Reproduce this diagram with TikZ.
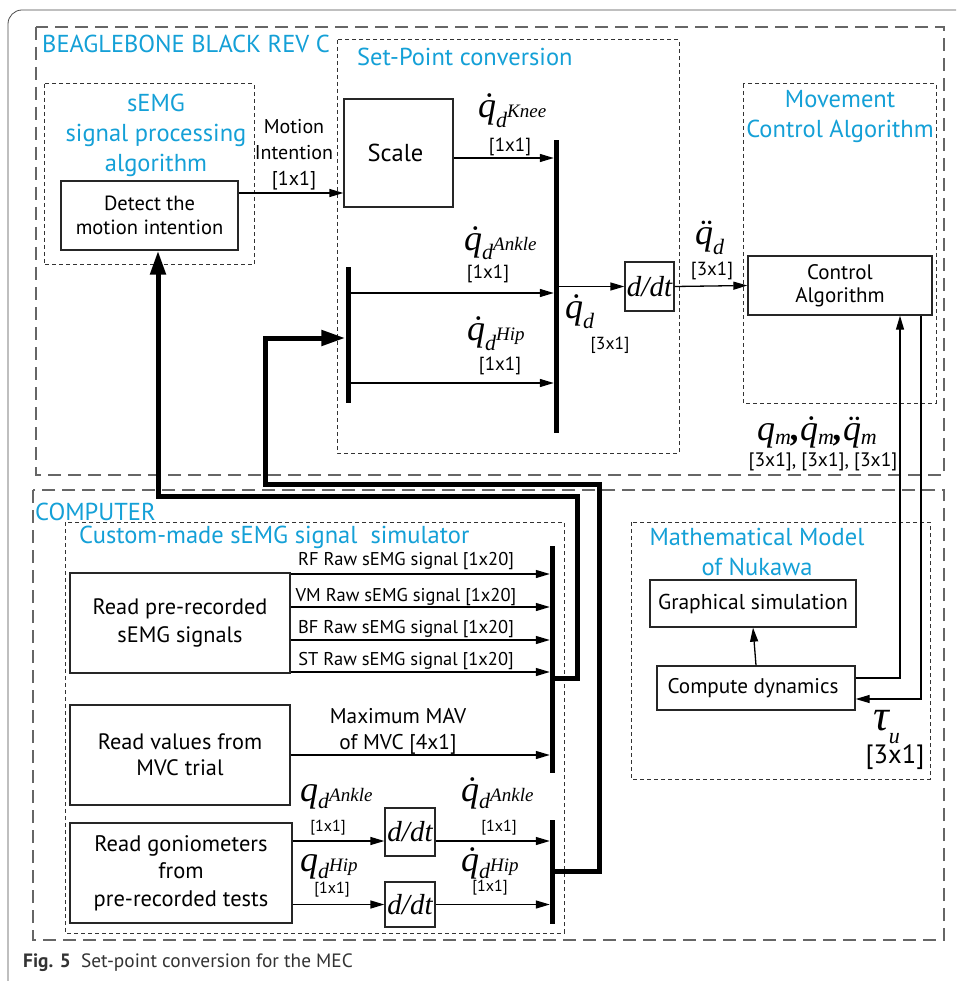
\documentclass[tikz,border=0pt]{standalone}
\usepackage{fontspec}
\newfontfamily\pts{PT Sans}
\newfontfamily\ms{Liberation Serif}
\usetikzlibrary{arrows.meta,calc}
\definecolor{cy}{RGB}{20,160,215}
\newcommand\fsz[2]{\fontsize{#1pt}{#2pt}\selectfont}
\newcommand\Qp{{\ms\itshape q}}
\newcommand\DQ{{\ms\itshape\accent"02D9 q}}
\newcommand\DDQ{{\ms\itshape\accent"00A8 q}}
\newcommand\labsub[2][10]{\raisebox{-#1pt}{\ms\itshape\fsz{22}{22}#2}}
\newcommand\labsup[1]{{\ms\itshape\fsz{19}{20}#1}}
\tikzset{
  x=1pt, y=-1pt,
  box/.style={draw=black!85, line width=1.3pt, inner sep=0pt, align=center, font=\pts\fsz{21}{25}},
  txt/.style={inner sep=0pt, align=center, font=\pts\fsz{20}{26}},
  dim/.style={inner sep=0pt, align=center, font=\pts\fsz{19}{20}},
  sdim/.style={inner sep=0pt, align=center, font=\pts\fsz{16}{18}},
  ttl/.style={inner sep=0pt, align=center, text=cy, font=\pts\fsz{24.5}{30}},
  ml/.style={inner sep=0pt, anchor=base west, font=\ms\itshape\fsz{36}{38}},
  ddt/.style={box, font=\ms\itshape\fsz{29}{30}},
  bus/.style={fill=black, inner sep=0pt, minimum width=5pt},
  arr/.style={line width=1.3pt, -{Triangle[length=14pt,width=8pt]}},
  thk/.style={line width=5pt, -{Triangle[length=24pt,width=15pt]}},
  longdash/.style={draw=black!60, line width=1.3pt, dash pattern=on 13pt off 7pt},
  shortdash/.style={draw=black!80, line width=1pt, dash pattern=on 4pt off 3pt},
}
\begin{document}
\begin{tikzpicture}
\useasboundingbox (0,0) rectangle (956,981);
\clip (0,0) rectangle (956,981);
\fill[white] (0,0) rectangle (956,981);
% outer frame
\draw[black!70, line width=0.8pt, rounded corners=14pt] (8,10) rectangle (990,1000);
% containers
\draw[longdash] (36,27) rectangle (944,475);
\draw[longdash] (33,490) rectangle (944,940);
\draw[shortdash] (44,84) rectangle (254,265);
\draw[shortdash] (337,40) rectangle (679,453);
\draw[shortdash] (743,84) rectangle (936,403);
\draw[shortdash] (65,522) rectangle (564,933);
\draw[shortdash] (631,522) rectangle (930,779);
% titles
\node[ttl, anchor=west] (tbb) at (42,44) {BEAGLEBONE BLACK REV C};
\node[ttl] (tsemg) at (156,135) {sEMG\\signal processing\\algorithm};
\node[ttl, anchor=west] (tsp) at (357,57) {Set-Point conversion};
\node[ttl] (tmov) at (840,117) {Movement\\Control Algorithm};
\node[ttl, anchor=west] (tcomp) at (35,512) {COMPUTER};
\node[ttl, anchor=west] (tcust) at (79,537) {Custom-made sEMG signal\ \ simulator};
\node[ttl] (tmath) at (757,552) {Mathematical Model\\of Nukawa};
% boxes
\node[box, minimum width=177pt, minimum height=69pt, font=\pts\fsz{20.5}{24}] (detect) at (149.5,215.5) {Detect the\\motion intention};
\node[box, minimum width=109pt, minimum height=108pt, font=\pts\fsz{24.5}{26}] (scale) at (398.5,153) {Scale\kern6pt};
\node[ddt, minimum width=49pt, minimum height=49pt] (ddt1) at (649.5,286.5) {d/dt};
\node[box, minimum width=184pt, minimum height=59pt, font=\pts\fsz{21}{23}] (control) at (840,285.5) {Control\\Algorithm};
\node[box, minimum width=206pt, minimum height=47pt, font=\pts\fsz{21.5}{24}] (graph) at (753,603.5) {Graphical simulation};
\node[box, minimum width=198pt, minimum height=44pt, font=\pts\fsz{21.2}{24}] (compute) at (756,688) {Compute dynamics\kern6pt};
\node[box, minimum width=220pt, minimum height=100pt, font=\pts\fsz{22.3}{28}] (readpre) at (180,623) {Read pre-recorded\\sEMG signals};
\node[box, minimum width=220pt, minimum height=100pt, font=\pts\fsz{22.3}{26}] (readval) at (180,755) {Read values from\\MVC trial};
\node[box, minimum width=222pt, minimum height=100pt, font=\pts\fsz{22.5}{27.5}] (readgon) at (181,873) {Read goniometers\\from\\pre-recorded tests};
\node[ddt, minimum width=50pt, minimum height=48pt] (ddt2) at (410,832) {d/dt};
\node[ddt, minimum width=50pt, minimum height=45pt] (ddt3) at (410,904.5) {d/dt};
% buses
\node[bus, minimum height=293pt] (bus1) at (556.5,286.5) {};
\node[bus, minimum height=136pt] (bus2) at (348,335) {};
\node[bus, minimum height=227pt] (bus3) at (552.5,659.5) {};
\node[bus, minimum height=104pt] (bus4) at (552.5,872) {};
% helper coordinates
\coordinate (y193) at (0,193);
\coordinate (y158) at (0,158);
\coordinate (y293) at (0,293);
\coordinate (y383) at (0,383);
\coordinate (fbup) at (900,0);
\coordinate (fbdn) at (921,0);
\coordinate (y678) at (0,678);
\coordinate (y699) at (0,699);
% thin arrows
\draw[arr] (detect.east |- y193) -- (scale.west |- y193);
\draw[arr] (scale.east |- y158) -- (bus1.west |- y158);
\draw[arr] (bus2.east |- y293) -- (bus1.west |- y293);
\draw[arr] (bus2.east |- y383) -- (bus1.west |- y383);
\draw[arr] (bus1.east |- ddt1.west) -- (ddt1.west);
\draw[arr] (ddt1.east) -- (control.west);
\draw[arr] (compute.east |- y678) -| (control.south -| fbup);
\draw[arr] (control.south -| fbdn) |- (compute.east |- y699);
\draw[arr] (compute.north) -- (graph.south);
\foreach \yy in {574,607,640,672}{
  \draw[arr] (readpre.east |- 0,\yy) -- (bus3.west |- 0,\yy);
}
\draw[arr] (readval.east |- 0,755) -- (bus3.west |- 0,755);
\draw[arr] (readgon.east |- 0,841) -- (ddt2.west |- 0,841);
\draw[arr] (ddt2.east |- 0,841) -- (bus4.west |- 0,841);
\draw[arr] (readgon.east |- ddt3.west) -- (ddt3.west);
\draw[arr] (ddt3.east) -- (bus4.west |- ddt3.east);
% thick routes
\coordinate (r1a) at (599,484);
\coordinate (r1b) at (265,338);
\draw[thk] (bus4.east |- 0,871) -| (r1a) -| (r1b) -- (bus2.west |- r1b);
\coordinate (r2a) at (577,496);
\draw[thk] (bus3.east |- 0,678) -| (r2a) -| (detect.south -| 158,0);
% labels
\node[txt] (lmi) at (294,155) {Motion\\Intention\\{[1x1]}};
\node[ml] (lknee) at (478,118) {\DQ\labsub{d}\labsup{Knee}};
\node[dim] (dknee) at (510,147) {[1x1]};
\node[ml] (lank) at (464,251) {\DQ\labsub[9]{d}\labsup{Ankle}};
\node[dim] (dank) at (488,274) {[1x1]};
\node[ml] (lhip) at (467,340) {\DQ\labsub{d}\labsup{Hip}};
\node[dim] (dhip) at (500,366) {[1x1]};
\node[ml] (lqd) at (565,318) {\DQ\labsub{d}};
\node[dim, font=\pts\fsz{17.5}{20}] (dqd) at (610,345) {[3x1]};
\node[ml] (lqdd) at (695,245) {\DDQ\labsub{d}};
\node[dim] (dqdd) at (712,271) {[3x1]};
\node[ml] (lqm) at (757,440) {\Qp\labsub[4]{m}\textbf{,}\DQ\labsub[4]{m}\textbf{,}\DDQ\labsub[4]{m}};
\node[dim, font=\pts\fsz{19.5}{20}] (dqm) at (823,462) {[3x1], [3x1], [3x1]};
\node[ml, font=\ms\itshape\fsz{44}{46}] (ltau) at (873,730) {τ\labsub[13]{u}};
\node[inner sep=0pt, font=\pts\fsz{26.5}{28}] (dtau) at (895,757) {[3x1]};
\node[sdim, font=\pts\fsz{18.5}{20}] (lrf) at (406,561) {RF Raw sEMG signal [1x20]};
\node[sdim, font=\pts\fsz{18.5}{20}] (lvm) at (406,597) {VM Raw sEMG signal [1x20]};
\node[sdim, font=\pts\fsz{18.5}{20}] (lbf) at (406,629) {BF Raw sEMG signal [1x20]};
\node[sdim, font=\pts\fsz{18.5}{20}] (lst) at (406,661) {ST Raw sEMG signal [1x20]};
\node[txt, font=\pts\fsz{21.3}{26}] (lmav) at (398,731) {Maximum MAV\\of MVC [4x1]};
\node[ml] (lqa) at (300,801) {\Qp\labsub[7]{d}\labsup{Ankle}};
\node[sdim] (dqa) at (328,828) {[1x1]};
\node[ml] (lqh) at (300,871) {\Qp\labsub[7]{d}\labsup{Hip}};
\node[sdim] (dqh) at (332,890) {[1x1]};
\node[ml] (lqda) at (461,801) {\DQ\labsub[7]{d}\labsup{Ankle}};
\node[sdim] (dqda) at (499,828) {[1x1]};
\node[ml] (lqdh) at (461,871) {\DQ\labsub[7]{d}\labsup{Hip}};
\node[sdim] (dqdh) at (490,888) {[1x1]};
% caption
\node[anchor=west, inner sep=0pt, text=black!80, font=\pts\fsz{19.3}{22}] (cap) at (23,963) {\textbf{Fig. 5}\ \ Set-point conversion for the MEC};
\end{tikzpicture}
\end{document}
